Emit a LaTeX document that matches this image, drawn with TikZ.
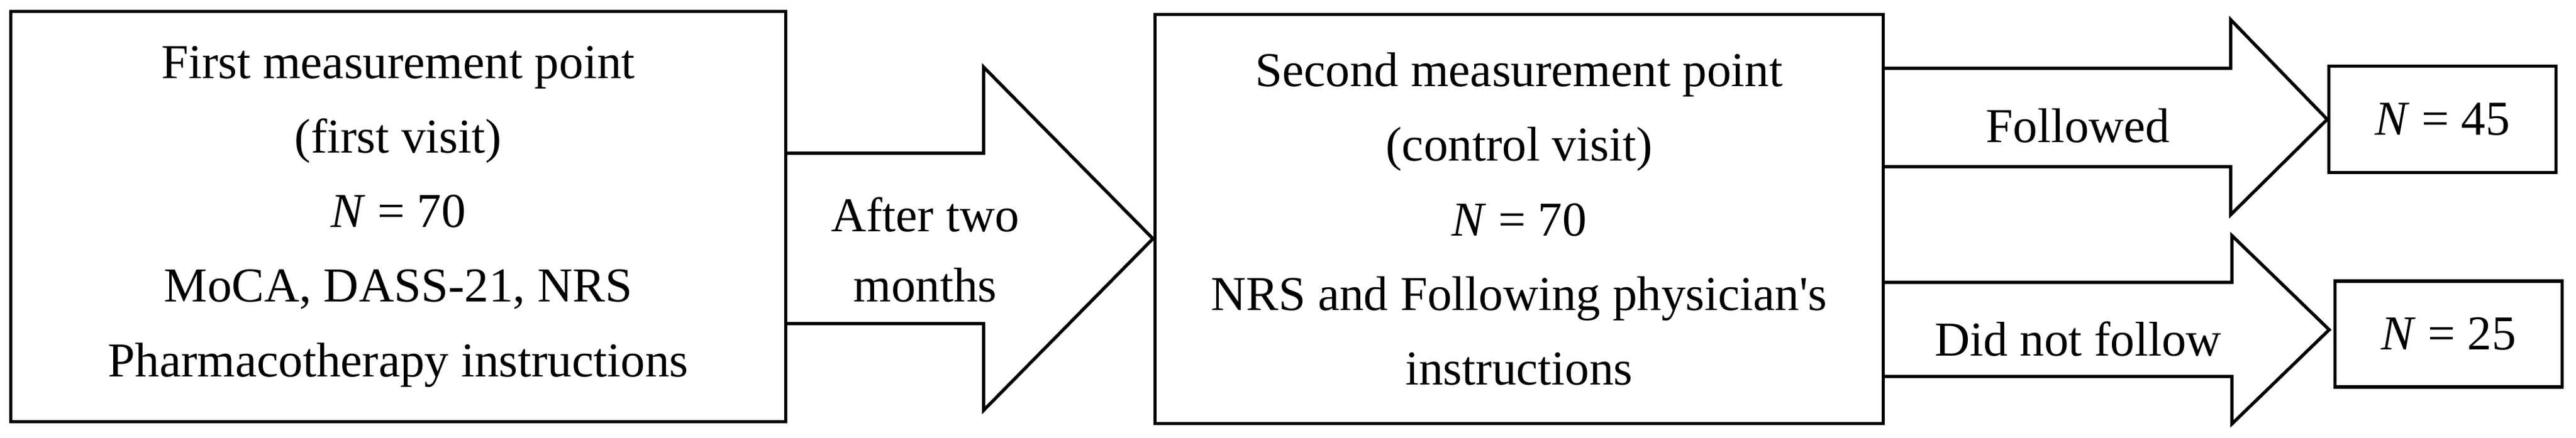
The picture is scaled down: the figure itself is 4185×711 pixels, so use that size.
\documentclass[tikz,border=0pt]{standalone}
\usepackage{fontspec}
\setmainfont{Liberation Serif}[Ligatures=TeXOff]
\usepackage{tikz}

\begin{document}
\begin{tikzpicture}[x=0.01cm, y=-0.01cm,
        box/.style={draw, rectangle, line width=1.5pt, align=center, font=\fontsize{22.5}{34.5}\selectfont},
        blockarrow/.style={draw, line width=1.5pt, line join=miter},
        lbl/.style={align=center, font=\fontsize{22.5}{32.5}\selectfont}]
        \useasboundingbox (0,0) rectangle (4185,711);

        \node[box, minimum width=12.58cm, minimum height=6.66cm] (first) at (647,352) {First measurement point\\(first visit)\\\textit{N} = 70\\MoCA, DASS-21, NRS\\Pharmacotherapy instructions};
        \node[box, minimum width=11.82cm, minimum height=6.65cm] (second) at (2468,356) {Second measurement point\\(control visit)\\\textit{N} = 70\\NRS and Following physician's\\instructions};
        \node[box, minimum width=3.69cm, minimum height=1.73cm] (nfoll) at (3968,194) {\textit{N} = 45};
        \node[box, minimum width=3.69cm, minimum height=1.72cm] (nnot) at (3978,543) {\textit{N} = 25};

        \draw[blockarrow] (first.east |- 0,249) -- (1598,249) -- (1598,109) -- (1873,388) -- (1598,667) -- (1598,526) -- (first.east |- 0,526);
        \draw[blockarrow] (second.east |- 0,111) -- (3624,111) -- (3624,32) -- (nfoll.west) -- (3624,349) -- (3624,271) -- (second.east |- 0,271);
        \draw[blockarrow] (second.east |- 0,459) -- (3626,459) -- (3626,383) -- (3784,536) -- (3626,689) -- (3626,612) -- (second.east |- 0,612);

        \node[lbl] (after) at (1503,406) {After two\\months};
        \node[lbl] (foll) at (3376,204) {Followed};
        \node[lbl] (notfoll) at (3376,551) {Did not follow};
    \end{tikzpicture}
\end{document}
